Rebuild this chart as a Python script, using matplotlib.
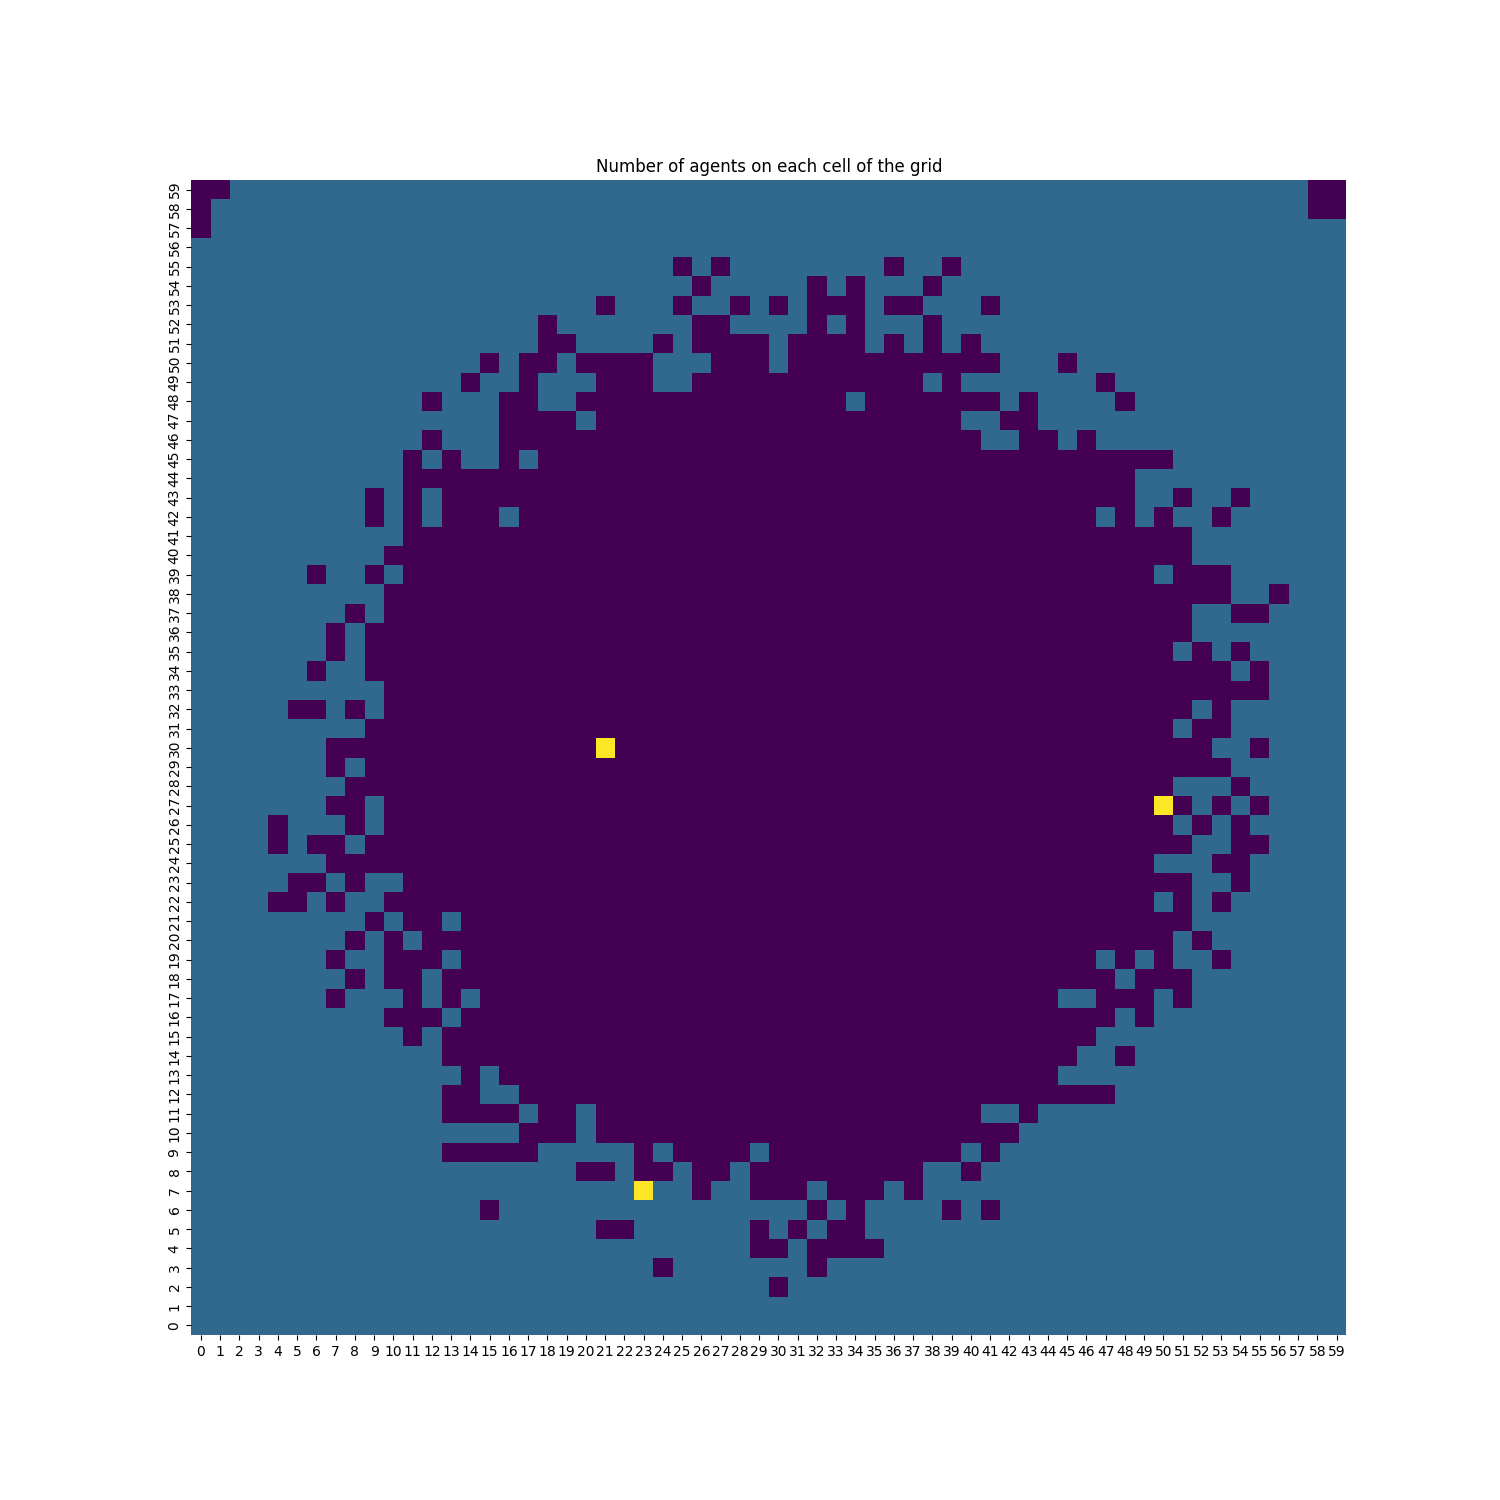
import numpy as np
import matplotlib.pyplot as plt

# agents per cell: 0 = empty, 1 = one agent, 3 = three agents
# rows listed from y = 59 (top) down to y = 0, columns 0..59 in groups of ten
GRID_ROWS = [
    "0011111111 1111111111 1111111111 1111111111 1111111111 1111111100",  # 59
    "0111111111 1111111111 1111111111 1111111111 1111111111 1111111100",  # 58
    "0111111111 1111111111 1111111111 1111111111 1111111111 1111111111",  # 57
    "1111111111 1111111111 1111111111 1111111111 1111111111 1111111111",  # 56
    "1111111111 1111111111 1111101011 1111110110 1111111111 1111111111",  # 55
    "1111111111 1111111111 1111110111 1101011101 1111111111 1111111111",  # 54
    "1111111111 1111111111 1011101101 0100010011 1011111111 1111111111",  # 53
    "1111111111 1111111101 1111110011 1101011101 1111111111 1111111111",  # 52
    "1111111111 1111111100 1111010000 1000010101 0111111111 1111111111",  # 51
    "1111111111 1111101001 0000111000 1000000000 0011101111 1111111111",  # 50
    "1111111111 1111011011 1000110000 0000000010 1111111011 1111111111",  # 49
    "1111111111 1101110011 0000000000 0000100000 0010111101 1111111111",  # 48
    "1111111111 1111110000 1000000000 0000000000 1100111111 1111111111",  # 47
    "1111111111 1101110000 0000000000 0000000000 0110010111 1111111111",  # 46
    "1111111111 1010110100 0000000000 0000000000 0000000000 0111111111",  # 45
    "1111111111 1000000000 0000000000 0000000000 0000000001 1111111111",  # 44
    "1111111110 1010000000 0000000000 0000000000 0000000001 1011011111",  # 43
    "1111111110 1010001000 0000000000 0000000000 0000000101 0110111111",  # 42
    "1111111111 1000000000 0000000000 0000000000 0000000000 0011111111",  # 41
    "1111111111 0000000000 0000000000 0000000000 0000000000 0011111111",  # 40
    "1111110110 1000000000 0000000000 0000000000 0000000000 1000111111",  # 39
    "1111111111 0000000000 0000000000 0000000000 0000000000 0000110111",  # 38
    "1111111101 0000000000 0000000000 0000000000 0000000000 0011001111",  # 37
    "1111111010 0000000000 0000000000 0000000000 0000000000 0011111111",  # 36
    "1111111010 0000000000 0000000000 0000000000 0000000000 0101011111",  # 35
    "1111110110 0000000000 0000000000 0000000000 0000000000 0000101111",  # 34
    "1111111111 0000000000 0000000000 0000000000 0000000000 0000001111",  # 33
    "1111100101 0000000000 0000000000 0000000000 0000000000 0010111111",  # 32
    "1111111110 0000000000 0000000000 0000000000 0000000000 0100111111",  # 31
    "1111111000 0000000000 0300000000 0000000000 0000000000 0001101111",  # 30
    "1111111010 0000000000 0000000000 0000000000 0000000000 0000111111",  # 29
    "1111111100 0000000000 0000000000 0000000000 0000000000 0111011111",  # 28
    "1111111001 0000000000 0000000000 0000000000 0000000000 3010101111",  # 27
    "1111011101 0000000000 0000000000 0000000000 0000000000 0101011111",  # 26
    "1111010010 0000000000 0000000000 0000000000 0000000000 0011001111",  # 25
    "1111111000 0000000000 0000000000 0000000000 0000000000 1110011111",  # 24
    "1111100101 1000000000 0000000000 0000000000 0000000000 0011011111",  # 23
    "1111001011 0000000000 0000000000 0000000000 0000000000 1010111111",  # 22
    "1111111110 1001000000 0000000000 0000000000 0000000000 0011111111",  # 21
    "1111111101 0100000000 0000000000 0000000000 0000000000 0101111111",  # 20
    "1111111011 0001000000 0000000000 0000000000 0000000101 0110111111",  # 19
    "1111111101 0010000000 0000000000 0000000000 0000000010 0011111111",  # 18
    "1111111011 1010100000 0000000000 0000000000 0000011000 1011111111",  # 17
    "1111111111 0001000000 0000000000 0000000000 0000000010 1111111111",  # 16
    "1111111111 1010000000 0000000000 0000000000 0000000111 1111111111",  # 15
    "1111111111 1110000000 0000000000 0000000000 0000001101 1111111111",  # 14
    "1111111111 1111010000 0000000000 0000000000 0000011111 1111111111",  # 13
    "1111111111 1110011000 0000000000 0000000000 0000000011 1111111111",  # 12
    "1111111111 1110000100 1000000000 0000000000 0110111111 1111111111",  # 11
    "1111111111 1111111000 1000000000 0000000000 0001111111 1111111111",  # 10
    "1111111111 1110000011 1110100001 0000000000 1011111111 1111111111",  # 9
    "1111111111 1111111111 0010010010 0000000011 0111111111 1111111111",  # 8
    "1111111111 1111111111 1113110110 0010001011 1111111111 1111111111",  # 7
    "1111111111 1111101111 1111111111 1101011110 1011111111 1111111111",  # 6
    "1111111111 1111111111 1001111110 1010011111 1111111111 1111111111",  # 5
    "1111111111 1111111111 1111111110 0100001111 1111111111 1111111111",  # 4
    "1111111111 1111111111 1111011111 1101111111 1111111111 1111111111",  # 3
    "1111111111 1111111111 1111111111 0111111111 1111111111 1111111111",  # 2
    "1111111111 1111111111 1111111111 1111111111 1111111111 1111111111",  # 1
    "1111111111 1111111111 1111111111 1111111111 1111111111 1111111111",  # 0
]

x_labels = [str(i) for i in range(60)]
y_labels = [str(i) for i in range(60)]

# flip so that row 0 of the array is y = 0 (bottom of the plot)
counts = np.array([[int(ch) for ch in row.replace(" ", "")] for row in GRID_ROWS[::-1]])

fig, ax = plt.subplots(figsize=(15, 15), dpi=100)
ax.pcolormesh(counts, cmap="viridis", vmin=counts.min(), vmax=counts.max())

ax.set_aspect("equal")
ax.set_xlim(0, counts.shape[1])
ax.set_ylim(0, counts.shape[0])

ax.set_xticks(np.arange(len(x_labels)) + 0.5)
ax.set_xticklabels(x_labels)
ax.set_yticks(np.arange(len(y_labels)) + 0.5)
ax.set_yticklabels(y_labels, rotation=90, va="center")

for spine in ax.spines.values():
    spine.set_visible(False)

ax.set_title("Number of agents on each cell of the grid")

fig.savefig("out.png")
